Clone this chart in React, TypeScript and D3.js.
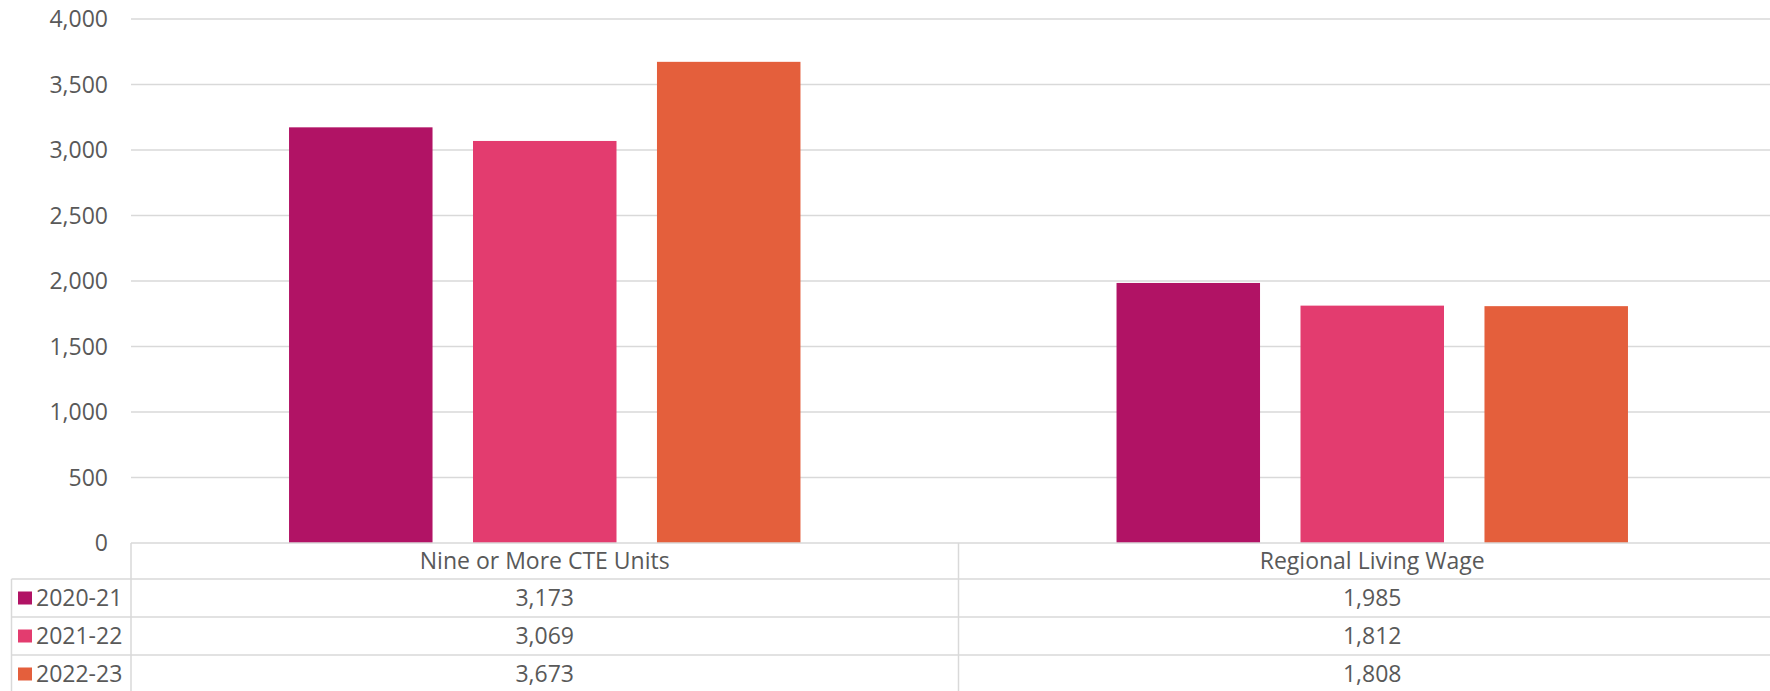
import React from "react";
import * as d3 from "d3";

const categories = ["Nine or More CTE Units", "Regional Living Wage"];
const seriesNames = ["2020-21", "2021-22", "2022-23"];
const values2020 = [3173, 1985];
const values2021 = [3069, 1812];
const values2022 = [3673, 1808];
const seriesValues = [values2020, values2021, values2022];
const colors = ["#B11365", "#E33C6F", "#E45F3C"];
const yTicks = [0, 500, 1000, 1500, 2000, 2500, 3000, 3500, 4000];

const W = 1770;
const H = 691;
const FONT = "'Open Sans', sans-serif";
const TXT = "#595959";
const GRID = "#D9D9D9";

export default function App() {
  const left = 131;
  const right = 1786;
  const y0 = 543;
  const yTop = 19;
  const legendLeft = 11.5;
  const rowTops = [543, 579, 617, 655, 693];

  const x = d3.scaleBand<string>().domain(categories).range([left, right]).padding(0);
  const xs = d3
    .scaleBand<string>()
    .domain(seriesNames)
    .range([0, x.bandwidth()])
    .paddingInner(0.22)
    .paddingOuter(0.859);
  const y = d3.scaleLinear().domain([0, 4000]).range([y0, yTop]);
  const fmt = d3.format(",");

  return (
    <div style={{ position: "absolute", left: 0, top: 0 }}>
      <svg width={W} height={H} style={{ display: "block" }}>
        <rect x={0} y={0} width={W} height={H} fill="#fff" />
        {yTicks.map((t) => (
          <g key={t}>
            {t > 0 && (
              <line x1={left} x2={W} y1={y(t)} y2={y(t)} stroke={GRID} strokeWidth={1.5} />
            )}
            <text
              x={108}
              y={y(t)}
              dy="0.36em"
              textAnchor="end"
              fontFamily={FONT}
              fontSize={23}
              fill={TXT}
            >
              {fmt(t)}
            </text>
          </g>
        ))}
        {categories.map((c, ci) =>
          seriesNames.map((s, si) => {
            const v = seriesValues[si][ci];
            return (
              <rect
                key={c + s}
                x={(x(c) as number) + (xs(s) as number)}
                y={y(v)}
                width={xs.bandwidth()}
                height={y0 - y(v)}
                fill={colors[si]}
              />
            );
          })
        )}
        {/* data table */}
        <line x1={left} x2={W} y1={rowTops[0]} y2={rowTops[0]} stroke={GRID} strokeWidth={1.5} />
        {[1, 2, 3].map((r) => (
          <line
            key={r}
            x1={legendLeft}
            x2={W}
            y1={rowTops[r]}
            y2={rowTops[r]}
            stroke={GRID}
            strokeWidth={1.5}
          />
        ))}
        <line x1={left} x2={left} y1={rowTops[0]} y2={H} stroke={GRID} strokeWidth={1.5} />
        <line x1={legendLeft} x2={legendLeft} y1={rowTops[1]} y2={H} stroke={GRID} strokeWidth={1.5} />
        <line
          x1={left + x.bandwidth()}
          x2={left + x.bandwidth()}
          y1={rowTops[0]}
          y2={H}
          stroke={GRID}
          strokeWidth={1.5}
        />
        {categories.map((c) => (
          <text
            key={c}
            x={(x(c) as number) + x.bandwidth() / 2}
            y={(rowTops[0] + rowTops[1]) / 2}
            dy="0.36em"
            textAnchor="middle"
            fontFamily={FONT}
            fontSize={23}
            fill={TXT}
          >
            {c}
          </text>
        ))}
        {seriesNames.map((s, si) => {
          const cy = (rowTops[si + 1] + rowTops[si + 2]) / 2;
          return (
            <g key={s}>
              <rect x={18} y={cy - 6.5} width={14} height={13} fill={colors[si]} />
              <text x={36} y={cy} dy="0.36em" fontFamily={FONT} fontSize={23} fill={TXT}>
                {s}
              </text>
              {categories.map((c, ci) => (
                <text
                  key={c}
                  x={(x(c) as number) + x.bandwidth() / 2}
                  y={cy}
                  dy="0.36em"
                  textAnchor="middle"
                  fontFamily={FONT}
                  fontSize={23}
                  fill={TXT}
                >
                  {fmt(seriesValues[si][ci])}
                </text>
              ))}
            </g>
          );
        })}
      </svg>
    </div>
  );
}
